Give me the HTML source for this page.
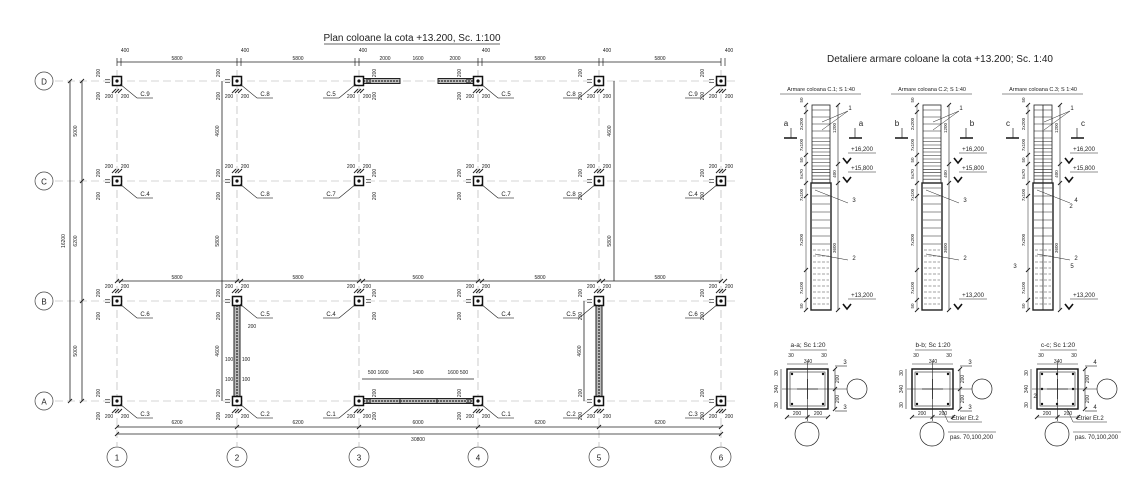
<!DOCTYPE html>
<html><head><meta charset="utf-8"><style>
html,body{margin:0;padding:0;background:#fff;}
svg{display:block;font-family:"Liberation Sans",sans-serif;}
</style></head><body>
<svg id="s" width="1140" height="500" viewBox="0 0 1140 500" xmlns="http://www.w3.org/2000/svg">
<text x="412" y="41" font-size="10" text-anchor="middle" fill="#222">Plan coloane la cota +13.200, Sc. 1:100</text>
<line x1="324" y1="44" x2="500" y2="44" stroke="#333" stroke-width="0.7"/>
<text x="940" y="62" font-size="10" text-anchor="middle" fill="#222">Detaliere armare coloane la cota +13.200; Sc. 1:40</text>
</svg>
<script>
const s=document.getElementById('s');const NS='http://www.w3.org/2000/svg';
function el(t,a,txt){const e=document.createElementNS(NS,t);for(const k in a)e.setAttribute(k,a[k]);if(txt!==undefined)e.textContent=txt;s.appendChild(e);return e;}
function L(x1,y1,x2,y2,w,c,d){const a={x1,y1,x2,y2,stroke:c||'#222','stroke-width':w||0.7};if(d)a['stroke-dasharray']=d;return el('line',a);}
function T(x,y,t,fs,anc,rot){const a={x,y,'font-size':fs||5,fill:'#222','text-anchor':anc||'middle'};if(rot)a.transform=`rotate(-90 ${x} ${y})`;return el('text',a,t);}
function tick(x,y){L(x-2,y+2,x+2,y-2,1);}
const X=[117,237,359,478,599,721],Y=[81,181,301,401],R=['D','C','B','A'];
Y.forEach((y,i)=>{L(55,y,735,y,0.6,'#aaa','8 4');el('circle',{cx:44,cy:y,r:9,fill:'#fff',stroke:'#444','stroke-width':0.7});T(44,y+3.5,R[i],8);});
X.forEach((x,i)=>{L(x,70,x,446,0.6,'#aaa','8 4');el('circle',{cx:x,cy:457,r:10,fill:'#fff',stroke:'#444','stroke-width':0.7});T(x,460.5,String(i+1),8);});
L(117,62,721,62,0.8);
[[117,121],[237,241],[355,359],[478,482],[599,603],[721,725]].forEach(p=>{p.forEach(x=>L(x,58,x,66,0.7));T(p[0]+8,52,'400');});
[[177,'5800'],[298,'5800'],[385,'2000'],[418,'1600'],[455,'2000'],[540,'5800'],[660,'5800']].forEach(a=>T(a[0],60,a[1]));
L(117,281,721,281,0.8);
[[177,'5800'],[298,'5800'],[418,'5600'],[540,'5800'],[660,'5800']].forEach(a=>T(a[0],279,a[1]));
X.forEach(x=>{tick(x,281);tick(x+4,281);});
L(117,427,721,427,0.8);L(117,434,721,434,0.8);
X.forEach(x=>{tick(x,427);});tick(117,434);tick(721,434);
[[177,'6200'],[298,'6200'],[418,'6000'],[540,'6200'],[660,'6200']].forEach(a=>T(a[0],424,a[1]));T(418,441,'30800');
L(70,81,70,401,0.8);L(82,81,82,401,0.8);
Y.forEach(y=>{tick(82,y);});tick(70,81);tick(70,401);
T(77,131,'5000',5,'middle',1);T(77,241,'6200',5,'middle',1);T(77,351,'5000',5,'middle',1);T(65,241,'16200',5,'middle',1);
L(222,81,222,401,0.8);T(219,131,'4600',5,'middle',1);T(219,241,'5800',5,'middle',1);T(219,351,'4600',5,'middle',1);
L(584,301,584,401,0.8);T(581,351,'4600',5,'middle',1);L(614,81,614,281,0.8);T(611,131,'4600',5,'middle',1);T(611,241,'5800',5,'middle',1);
function beamV(x,y1,y2){el('rect',{x:x-3,y:y1,width:6,height:y2-y1,fill:'#bbb',stroke:'#222','stroke-width':1});L(x,y1,x,y2,1.5,'#444','2 1');}
function beamH(x1,x2,y){el('rect',{x:x1,y:y-2.5,width:x2-x1,height:5,fill:'#bbb',stroke:'#222','stroke-width':1});L(x1,y,x2,y,1.5,'#444','2 1');}
beamV(237,305,397);beamV(599,305,397);
beamH(363,400,81);beamH(438,474,81);
beamH(363,400,401);beamH(400,437,401);beamH(437,474,401);
[[372,'500'],[383,'1600'],[418,'1400'],[453,'1600'],[464,'500']].forEach(a=>T(a[0],374,a[1]));L(362,379,474,379,0.7);
T(252,328,'200');T(229,361,'100');T(246,361,'100');T(229,381,'100');T(246,381,'100');
const lab=[['C.9','C.8','C.5','C.5','C.8','C.9'],['C.4','C.8','C.7','C.7','C.8','C.4'],['C.6','C.5','C.4','C.4','C.5','C.6'],['C.3','C.2','C.1','C.1','C.2','C.3']];
const side=[1,1,-1,1,-1,-1];
Y.forEach((y,r)=>X.forEach((x,c)=>{
 el('rect',{x:x-4.5,y:y-4.5,width:9,height:9,fill:'#fff',stroke:'#111','stroke-width':1.5});
 el('circle',{cx:x,cy:y,r:1.6,fill:'#111'});
 const sd=side[c];
 L(x+sd*3,y+3,x+sd*20,y+17,0.6);L(x+sd*20,y+17,x+sd*36,y+17,0.6);
 T(x+sd*28,y+15,lab[r][c],6);
 const ddir=(c==2)?1:-1;
 L(x+ddir*7,y-1.5,x+ddir*12,y-1.5,0.6);L(x+ddir*7,y+1.5,x+ddir*12,y+1.5,0.6);
 T(x+ddir*17,y-8,'200',5,'middle',1);T(x+ddir*17,y+15,'200',5,'middle',1);
 const ty=(r==0||r==3)?y+10:y-10;
 tick(x-3,ty);tick(x,ty);tick(x+3,ty);
 T(x-8,(r==0||r==3)?y+17:y-13,'200');T(x+8,(r==0||r==3)?y+17:y-13,'200');
}));
const CX=[812,923,1034],lett=['a','b','c'];
CX.forEach((x0,k)=>{
 const w=18;
 T(x0+9,91,'Armare coloana C.'+(k+1)+'; S 1:40',5.5);L(x0-32,94,x0+49,94,0.6);
 el('rect',{x:x0,y:105,width:w,height:78,fill:'none',stroke:'#222','stroke-width':0.8});
 el('rect',{x:x0-1,y:183,width:w+2,height:127,fill:'none',stroke:'#222','stroke-width':1.4});
 if(k==2){L(x0+9,105,x0+9,310,0.8);}
 for(let y=110;y<=180;y+= (y<135?7:(y<165?3.5:3.3)))L(x0,y,x0+w,y,0.6);
 for(let y=188;y<=245;y+=8)L(x0,y,x0+w,y,0.6);
 for(let y=250;y<=305;y+=6)L(x0+1,y,x0+w-1,y,0.6,'#444','3 1.5');
 L(x0+26,105,x0+26,310,0.6);
 [105,164,183,310].forEach(y=>tick(x0+26,y));
 [105,112,155,164,183,196,270,300,310].forEach(y=>tick(x0-6,y));
 L(x0-6,105,x0-6,310,0.5);
 T(x0-9,100,'50',4.5,'middle',1);T(x0-9,124,'2x200',4.5,'middle',1);T(x0-9,145,'7x100',4.5,'middle',1);T(x0-9,160,'50',4.5,'middle',1);T(x0-9,174,'5x70',4.5,'middle',1);T(x0-9,195,'7x100',4.5,'middle',1);T(x0-9,240,'7x200',4.5,'middle',1);T(x0-9,288,'7x100',4.5,'middle',1);T(x0-9,306,'50',4.5,'middle',1);
 T(x0+24,128,'1200',4.5,'middle',1);T(x0+24,174,'400',4.5,'middle',1);T(x0+24,248,'3600',4.5,'middle',1);
 L(x0-28,138,x0-15,138,1.6);L(x0-21,128,x0-21,138,0.7);T(x0-26,126,lett[k],8);
 L(x0+37,138,x0+50,138,1.6);L(x0+43,128,x0+43,138,0.7);T(x0+49,126,lett[k],8);
 [[163,'+16,200'],[182,'+15,800'],[309,'+13,200']].forEach(a=>{
  el('polyline',{points:`${x0+31},${a[0]-5} ${x0+35},${a[0]} ${x0+39},${a[0]-5}`,fill:'none',stroke:'#111','stroke-width':1.6});
  L(x0+36,a[0]-10,x0+64,a[0]-10,0.6);T(x0+50,a[0]-12,a[1],6);
 });
 L(x0+10,130,x0+36,111,0.5);L(x0+10,122,x0+36,111,0.5);T(x0+38,110,'1',6);
 const n=k==2?['4','2']:['3','2'];
 T(x0+42,202,n[0],6);L(x0+3,190,x0+36,203,0.5);T(x0+42,260,n[1],6);L(x0+3,254,x0+36,260,0.5);
});
T(1015,268,'3',6);T(1072,268,'5',6);T(1071,208,'2',6);
const SX=[787,912,1037],st=['a-a; Sc 1:20','b-b; Sc 1:20','c-c; Sc 1:20'];
SX.forEach((x0,k)=>{
 T(x0+21,347,st[k],6.5);L(x0+3,350,x0+40,350,0.6);
 el('rect',{x:x0,y:369,width:41,height:40,fill:'none',stroke:'#111','stroke-width':1.4});
 el('rect',{x:x0+3,y:372,width:35,height:34,fill:'none',stroke:'#444','stroke-width':0.7});
 [[x0+5,374],[x0+36,374],[x0+5,404],[x0+36,404]].forEach(p=>el('circle',{cx:p[0],cy:p[1],r:1.2,fill:'#111'}));
 if(k==2){[[x0+20,374],[x0+20,404],[x0+5,389],[x0+36,389]].forEach(p=>el('circle',{cx:p[0],cy:p[1],r:1.2,fill:'#111'}));}
 L(x0+10,389,x0+31,389,0.7);L(x0+20.5,379,x0+20.5,399,0.7);
 L(x0-5,389,x0+60,389,0.6);L(x0+20.5,362,x0+20.5,421,0.6);
 el('circle',{cx:x0+70,cy:389,r:10,fill:'#fff',stroke:'#222','stroke-width':0.7});
 el('circle',{cx:x0+20,cy:434,r:12,fill:'#fff',stroke:'#222','stroke-width':0.7});
 L(x0,417,x0+41,417,0.6);tick(x0,417);tick(x0+20.5,417);tick(x0+41,417);T(x0+10,415,'200');T(x0+31,415,'200');
 L(x0+48,369,x0+48,409,0.6);tick(x0+48,369);tick(x0+48,389);tick(x0+48,409);T(x0+52,379,'200',5,'middle',1);T(x0+52,399,'200',5,'middle',1);
 L(x0-6,369,x0-6,409,0.6);T(x0-9,389,'340',5,'middle',1);T(x0-9,373,'30',5,'middle',1);T(x0-9,405,'30',5,'middle',1);
 L(x0,364,x0+41,364,0.6);T(x0+21,363,'340');T(x0+4,357,'30');T(x0+37,357,'30');
 const tl=k==2?'4':'3';L(x0+48,366,x0+60,366,0.6);T(x0+58,364,tl,6);L(x0+48,411,x0+60,411,0.6);T(x0+58,409,tl,6);
 if(k>0){L(x0+30,409,x0+36,422,0.5);L(x0+36,422,x0+70,422,0.5);T(x0+40,420,'Etrier Et.2',6,'start');L(x0+36,432,x0+84,432,0.5);T(x0+38,439,'pas. 70,100,200',6,'start');}
});
T(1035,398,'2',6);
</script>
</body></html>
